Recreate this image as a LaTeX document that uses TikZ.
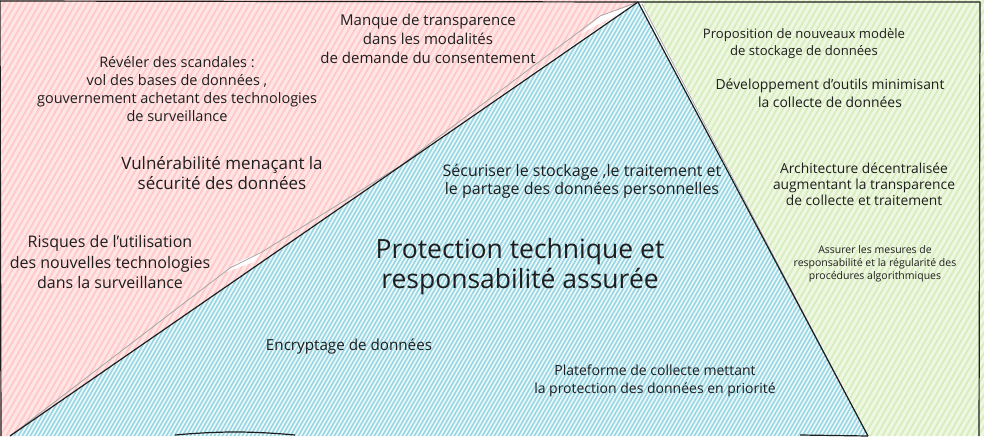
\documentclass[tikz,border=0pt]{standalone}
\usepackage{fontspec}
\setmainfont{Open Sans}
\definecolor{redbg}{HTML}{FFE6E6}
\definecolor{redst}{HTML}{FFC9C9}
\definecolor{bluebg}{HTML}{EEF9FB}
\definecolor{bluest}{HTML}{99D6E3}
\definecolor{greenbg}{HTML}{EEF7E2}
\definecolor{greenst}{HTML}{D8EDBD}
\definecolor{ink}{HTML}{1E1E1E}
\tikzset{
  txt/.style={align=center, text=ink, inner sep=0pt},
  edge/.style={draw=ink, line width=1.2pt, line join=round},
  ghost/.style={draw=gray!70, line width=0.8pt, line join=round}
}
\begin{document}
\begin{tikzpicture}[x=1pt,y=-1pt]
\useasboundingbox (0,0) rectangle (984,436);
% red region
\begin{scope}
\clip (0,0) -- (638,0) -- (10,436) -- (0,436) -- cycle;
\fill[redbg] (0,0) rectangle (984,436);
\foreach \i in {-320,-314,...,990} \draw[redst, line width=1.8pt] (\i,440) -- ++(300,-520);
\end{scope}
% blue region
\begin{scope}
\clip (638,2) -- (868,436) -- (10,436) -- cycle;
\fill[bluebg] (0,0) rectangle (984,436);
\foreach \i in {-320,-316,...,990} \draw[bluest, line width=1.6pt] (\i,440) -- ++(300,-520);
\end{scope}
% green region
\begin{scope}
\clip (641,0) -- (984,0) -- (984,436) -- (869,436) -- cycle;
\fill[greenbg] (0,0) rectangle (984,436);
\foreach \i in {-320,-314,...,990} \draw[greenst, line width=1.8pt] (\i,440) -- ++(300,-520);
\end{scope}
% white gaps along the left diagonal
\fill[white] (636,4) -- (600,16) -- (580,34) -- (622,12) -- cycle;
\fill[white] (262,252) -- (238,262) -- (226,272) -- (254,262) -- cycle;
% corners
\coordinate (top) at (638,2);
\coordinate (bl) at (10,436);
\coordinate (br) at (868,436);
\coordinate (tl) at (0,1);
\coordinate (tr) at (980,2);
\coordinate (rb) at (979,436);
\coordinate (lb) at (1,436);
\coordinate (b1) at (175,435);
\coordinate (b2) at (295,435);
\coordinate (b3) at (800,435);
% edges
\draw[ghost] (top) -- (600,16) -- (400,166) -- (262,252) -- (230,268) -- (bl);
\draw[edge] (top) -- (bl);
\draw[ghost] (642,4) -- (760,230) -- (br);
\draw[edge] (top) -- (br);
\draw[edge] (tl) -- (top) -- (tr) -- (rb);
\draw[edge] (tl) -- (lb);
\draw[edge] (b1) .. controls (220,431) and (250,431) .. (b2);
\draw[edge] (b3) -- (br);
% texts
\node[txt, font=\fontsize{15}{19}\selectfont] (manque) at (428,39) {Manque de transparence\\dans les modalités\\de demande du consentement};
\node[txt, font=\fontsize{14.5}{18}\selectfont] (reveler) at (177,89) {Révéler des scandales :\\vol des bases de données ,\\gouvernement achetant des technologies\\de surveillance};
\node[txt, font=\fontsize{17}{20}\selectfont] (vuln) at (222,173) {Vulnérabilité menaçant la\\sécurité des données};
\node[txt, font=\fontsize{16}{20.5}\selectfont] (risques) at (110,262) {Risques de l’utilisation\\des nouvelles technologies\\dans la surveillance};
\node[txt, font=\fontsize{16}{18}\selectfont] (secu) at (582,181) {Sécuriser le stockage ,le traitement et\\le partage des données personnelles};
\node[txt, font=\fontsize{26.5}{30}\selectfont] (prot) at (520,267) {Protection technique et\\responsabilité assurée};
\node[txt, font=\fontsize{15.2}{18}\selectfont] (encr) at (349,346) {Encryptage de données};
\node[txt, font=\fontsize{14}{18}\selectfont] (plat) at (655,381) {Plateforme de collecte mettant\\la protection des données en priorité};
\node[txt, font=\fontsize{13.1}{17}\selectfont] (prop) at (804,44) {Proposition de nouveaux modèle\\de stockage de données};
\node[txt, font=\fontsize{13.9}{18}\selectfont] (dev) at (830,93) {Développement d'outils minimisant\\la collecte de données};
\node[txt, font=\fontsize{13.8}{16}\selectfont] (archi) at (864,184) {Architecture décentralisée\\augmentant la transparence\\de collecte et traitement};
\node[txt, font=\fontsize{10.5}{13}\selectfont] (assur) at (875,264) {Assurer les mesures de\\responsabilité et la régularité des\\procédures algorithmiques};
\end{tikzpicture}
\end{document}
